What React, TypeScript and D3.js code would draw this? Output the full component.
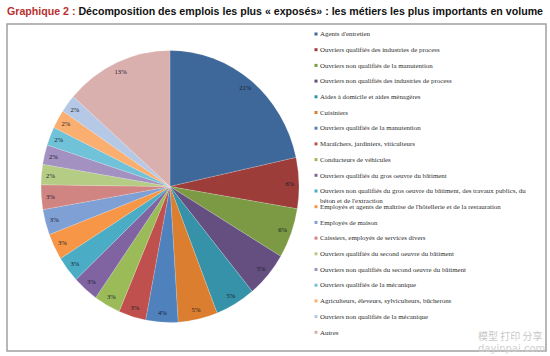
import React from "react";
import * as d3 from "d3";

const categories: string[] = [
  "Agents d'entretien",
  "Ouvriers qualifiés des industries de process",
  "Ouvriers non qualifiés de la manutention",
  "Ouvriers non qualifiés des industries de process",
  "Aides à domicile et aides ménagères",
  "Cuisiniers",
  "Ouvriers qualifiés de la manutention",
  "Maraîchers, jardiniers, viticulteurs",
  "Conducteurs de véhicules",
  "Ouvriers qualifiés du gros oeuvre du bâtiment",
  "Ouvriers non qualifiés du gros oeuvre du bâtiment, des travaux publics, du|béton et de l'extraction",
  "Employés et agents de maîtrise de l'hôtellerie et de la restauration",
  "Employés de maison",
  "Caissiers, employés de services divers",
  "Ouvriers qualifiés du second oeuvre du bâtiment",
  "Ouvriers non qualifiés du second oeuvre du bâtiment",
  "Ouvriers qualifiés de la mécanique",
  "Agriculteurs, éleveurs, sylviculteurs, bûcherons",
  "Ouvriers non qualifiés de la mécanique",
  "Autres",
];

const values: number[] = [
  21.4, 6.0, 5.9, 5.4, 5.0, 4.9, 4.0, 3.4, 3.3, 3.2, 3.1, 3.1, 3.0, 2.9, 2.4, 2.3, 2.2, 2.2, 2.1, 13.4,
];

const colors: string[] = [
  "#3E6899", "#9C3D3A", "#7B9A43", "#644F80", "#3592A8", "#DB7E2F",
  "#4F81BD", "#C0504D", "#9BBB59", "#8064A2", "#4BACC6", "#F79646",
  "#7FA0D4", "#D08583", "#B4CC84", "#A391C1", "#70C2D8", "#FAAE6F",
  "#B5C8E5", "#DAB0AE",
];

const W = 550;
const H = 356;
const cx = 170;
const cy = 186.5;
const rx = 129;
const ry = 136;

export default function App() {
  const pie = d3.pie<number>().sort(null).value((d) => d);
  const arcs = pie(values);
  const arc = d3.arc<d3.PieArcDatum<number>>().innerRadius(0).outerRadius(ry);

  const legendX = 316;
  const legendY0 = 34;
  const legendStep = 15.7;

  return (
    <svg width={W} height={H} style={{ position: "absolute", left: 0, top: 0, background: "#fff" }}>
      <rect x={0} y={0} width={W} height={H} fill="#fff" />
      <text x={7} y={15} fontFamily="'Liberation Sans', Arial, sans-serif" fontWeight="bold" fontSize={10.5}
        textLength={536} lengthAdjust="spacingAndGlyphs">
        <tspan fill="#B8312F">Graphique 2 :</tspan>
        <tspan fill="#111"> Décomposition des emplois les plus « exposés» : les métiers les plus importants en volume</tspan>
      </text>
      <rect x={7} y={24} width={539} height={327} fill="#fff" stroke="#a0a0a0" strokeWidth={1.5} />

      <g transform={`translate(${cx},${cy}) scale(${rx / ry},1)`}>
        {arcs.map((a, i) => (
          <path key={i} d={arc(a) || ""} fill={colors[i]} stroke="#ffffff" strokeOpacity={0.35} strokeWidth={0.5} />
        ))}
      </g>
      {arcs.map((a, i) => {
        const mid = (a.startAngle + a.endAngle) / 2;
        const f = 0.93;
        const x = cx + Math.sin(mid) * rx * f;
        const y = cy - Math.cos(mid) * ry * f;
        return (
          <text key={i} x={x} y={y} dy="0.35em" textAnchor="middle" fontSize={6.6}
            fontFamily="'Liberation Serif', serif" fill="#1a1a2a">
            {`${Math.round(values[i])}%`}
          </text>
        );
      })}

      {categories.map((c, i) => {
        const y = legendY0 + i * legendStep;
        const lines = c.split("|");
        return (
          <g key={i}>
            <rect x={legendX - 1.5} y={y - 1.5} width={3} height={3} fill={colors[i]} />
            {lines.map((l, j) => (
              <text key={j} x={legendX + 4} y={y + j * 9.3} dy="0.33em" fontSize={6.9}
                fontFamily="'Liberation Serif', serif" fill="#2e2e2e">
                {l}
              </text>
            ))}
          </g>
        );
      })}

      <text x={478} y={340} fontSize={10} fontFamily="'Noto Sans CJK SC', sans-serif" fill="#c8c8c8">模型 打印 分享</text>
      <text x={478} y={352} fontSize={10} fontFamily="'DejaVu Sans', sans-serif" fill="#d0d0d0">dayinpai.com</text>
    </svg>
  );
}
